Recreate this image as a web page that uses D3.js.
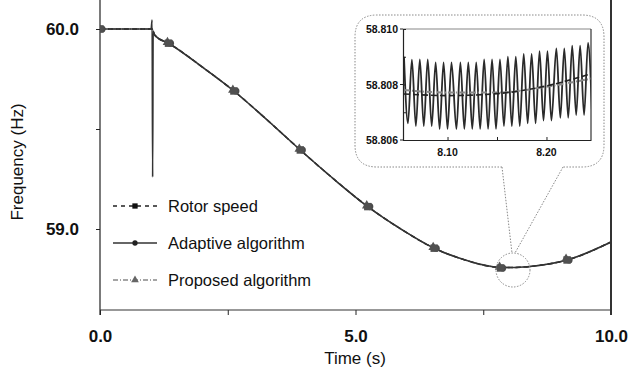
<!DOCTYPE html>
<html>
<head>
<meta charset="utf-8">
<script src="https://cdn.jsdelivr.net/npm/d3@7"></script>
<style>
  body { margin: 0; background: #fff; }
  svg { display: block; font-family: "Liberation Sans", Arial, sans-serif; }
</style>
</head>
<body>
<div class="container"></div>
<script>
// ---- main plot data ----
const mainTime = [0, 1.0, 1.02, 1.03, 1.04, 1.06, 1.1, 1.34, 2.0, 2.62, 3.25, 3.92, 4.55, 5.24, 5.9, 6.54, 7.06, 7.84, 8.13, 8.5, 9.14, 10]
const rotorFreq = [60.0, 60.0, 60.0, 59.995, 59.99, 59.975, 59.962, 59.929, 59.81, 59.69, 59.55, 59.395, 59.255, 59.112, 58.998, 58.904, 58.852, 58.808, 58.8077, 58.815, 58.845, 58.935]
const adaptiveFreq = [60.0, 60.0, 60.045, 59.26, 59.99, 59.975, 59.962, 59.929, 59.81, 59.69, 59.55, 59.395, 59.255, 59.112, 58.998, 58.904, 58.852, 58.808, 58.8076, 58.815, 58.845, 58.935]
const proposedFreq = [60.0, 60.0, 60.0, 59.995, 59.99, 59.975, 59.962, 59.929, 59.81, 59.69, 59.55, 59.395, 59.255, 59.112, 58.998, 58.904, 58.852, 58.808, 58.8077, 58.815, 58.845, 58.935]

const markerTime = [0.0, 1.34, 2.62, 3.92, 5.24, 6.54, 7.84, 9.14]
const markerFreq = [60.0, 59.929, 59.69, 59.395, 59.112, 58.904, 58.805, 58.845]

const xTicks = [0, 2.5, 5, 7.5, 10]
const xTickLabels = ["0.0", "", "5.0", "", "10.0"]
const yTicks = [59.0, 59.5, 60.0]
const yTickLabels = ["59.0", "", "60.0"]

// ---- zoomed inset data ----
const insetTime = [8.056, 8.060, 8.064, 8.068, 8.072, 8.076, 8.080, 8.084, 8.088, 8.092, 8.096, 8.100,
  8.104, 8.109, 8.113, 8.117, 8.121, 8.125, 8.129, 8.133, 8.137, 8.141, 8.145, 8.149,
  8.153, 8.157, 8.161, 8.165, 8.169, 8.173, 8.177, 8.181, 8.185, 8.189, 8.193, 8.197,
  8.201, 8.205, 8.210, 8.214, 8.218, 8.222, 8.226, 8.230, 8.234, 8.238, 8.242, 8.246]
const insetAdaptive = [58.8090, 58.8066, 58.8089, 58.8065, 58.8089, 58.8065, 58.8089, 58.8065,
  58.8088, 58.8064, 58.8088, 58.8064, 58.8088, 58.8064, 58.8088, 58.8064, 58.8088, 58.8064,
  58.8088, 58.8064, 58.8089, 58.8064, 58.8089, 58.8064, 58.8089, 58.8065, 58.8090, 58.8065,
  58.8090, 58.8065, 58.8091, 58.8066, 58.8091, 58.8066, 58.8092, 58.8067, 58.8092, 58.8067,
  58.8093, 58.8068, 58.8093, 58.8068, 58.8094, 58.8069, 58.8094, 58.8069, 58.8095, 58.8070]
const insetSmoothTime = [8.056, 8.10, 8.15, 8.20, 8.246]
const insetRotor = [58.80766, 58.80760, 58.80767, 58.80795, 58.80840]
const insetProposed = [58.80780, 58.80771, 58.80771, 58.80792, 58.80822]

const insetYTicks = [58.806, 58.807, 58.808, 58.809, 58.810]
const insetYLabels = ["58.806", "", "58.808", "", "58.810"]
const insetXTicks = [8.10, 8.15, 8.20]
const insetXLabels = ["8.10", "", "8.20"]

const legendNames = ["Rotor speed", "Adaptive algorithm", "Proposed algorithm"]

const W = 629, H = 376

const svg = d3.select("div.container").append("svg")
  .attr("width", W).attr("height", H)

// scales
const x = d3.scaleLinear().domain([0, 10]).range([100, 611])
const y = d3.scaleLinear().domain([58.595, 60.145]).range([310, 0])

// clip for main series
svg.append("clipPath").attr("id", "mainClip")
  .append("rect").attr("x", 100).attr("y", 0).attr("width", 511).attr("height", 310)

// axes
const yAxis = d3.axisLeft(y).tickValues(yTicks).tickSize(4).tickSizeOuter(0)
  .tickFormat((d, i) => yTickLabels[i])
const gy = svg.append("g").attr("transform", "translate(100,0)").call(yAxis)
gy.select(".domain").remove()
gy.selectAll("line").attr("stroke", "#222")
gy.selectAll("text").attr("font-size", 17).attr("font-weight", "bold").attr("fill", "#111").attr("dx", -14)

const xAxis = d3.axisBottom(x).tickValues(xTicks).tickSize(5).tickSizeOuter(0)
  .tickFormat((d, i) => xTickLabels[i])
const gx = svg.append("g").attr("transform", "translate(0,310)").call(xAxis)
gx.select(".domain").remove()
gx.selectAll("line").attr("stroke", "#222")
gx.selectAll("text").attr("font-size", 17).attr("font-weight", "bold").attr("fill", "#111").attr("dy", "1.4em")

// frame: left, bottom, right
svg.append("line").attr("x1", 100).attr("x2", 100).attr("y1", 0).attr("y2", 315).attr("stroke", "#222").attr("stroke-width", 1.2)
svg.append("line").attr("x1", 100).attr("x2", 611).attr("y1", 310).attr("y2", 310).attr("stroke", "#333").attr("stroke-width", 1.2)
svg.append("line").attr("x1", 611).attr("x2", 611).attr("y1", 0).attr("y2", 315).attr("stroke", "#333").attr("stroke-width", 2)

// axis titles
svg.append("text").attr("x", 355).attr("y", 364).attr("text-anchor", "middle")
  .attr("font-size", 17).attr("fill", "#111").text("Time (s)")
svg.append("text").attr("transform", "translate(23,162) rotate(-90)").attr("text-anchor", "middle")
  .attr("font-size", 17).attr("fill", "#111").text("Frequency (Hz)")

// main series
const line = d3.line().x(d => x(d[0])).y(d => y(d[1])).curve(d3.curveMonotoneX)
const main = svg.append("g").attr("clip-path", "url(#mainClip)")
main.append("path").datum(d3.zip(mainTime, proposedFreq)).attr("d", line)
  .attr("fill", "none").attr("stroke", "#777").attr("stroke-width", 1.5).attr("stroke-dasharray", "6,2,1,2")
main.append("path").datum(d3.zip(mainTime, rotorFreq)).attr("d", line)
  .attr("fill", "none").attr("stroke", "#222").attr("stroke-width", 1.5).attr("stroke-dasharray", "5,3")
main.append("path").datum(d3.zip(mainTime, adaptiveFreq)).attr("d", line)
  .attr("fill", "none").attr("stroke", "#333").attr("stroke-width", 1.6)

// markers (three symbols overlapping)
const markers = d3.zip(markerTime, markerFreq)
const symSquare = d3.symbol().type(d3.symbolSquare).size(55)
const symCircle = d3.symbol().type(d3.symbolCircle).size(40)
const symTri = d3.symbol().type(d3.symbolTriangle).size(40)
main.selectAll(".m-tr").data(markers).enter().append("path").attr("class", "m-tr")
  .attr("d", symTri).attr("transform", d => `translate(${x(d[0]) - 1},${y(d[1]) - 1})`).attr("fill", "#555")
main.selectAll(".m-ci").data(markers).enter().append("path").attr("class", "m-ci")
  .attr("d", symCircle).attr("transform", d => `translate(${x(d[0]) + 2},${y(d[1])})`).attr("fill", "#4a4a4a")
main.selectAll(".m-sq").data(markers).enter().append("path").attr("class", "m-sq")
  .attr("d", symSquare).attr("transform", d => `translate(${x(d[0])},${y(d[1])})`).attr("fill", "#505050")

// legend
const legendY = [206, 243, 280]
const leg = svg.append("g")
legendNames.forEach((name, i) => {
  const gy0 = legendY[i]
  const l = leg.append("line").attr("x1", 113).attr("x2", 157).attr("y1", gy0).attr("y2", gy0)
  if (i === 0) l.attr("stroke", "#222").attr("stroke-width", 1.3).attr("stroke-dasharray", "4,4")
  if (i === 1) l.attr("stroke", "#333").attr("stroke-width", 1.3)
  if (i === 2) l.attr("stroke", "#888").attr("stroke-width", 1.3).attr("stroke-dasharray", "5,2,1,2")
  const sym = [d3.symbol().type(d3.symbolSquare).size(28), d3.symbol().type(d3.symbolCircle).size(22), d3.symbol().type(d3.symbolTriangle).size(26)][i]
  leg.append("path").attr("d", sym).attr("transform", `translate(135,${gy0})`)
    .attr("fill", ["#111", "#222", "#666"][i])
  leg.append("text").attr("x", 168).attr("y", gy0 + 6).attr("font-size", 16.5).attr("fill", "#111").text(name)
})

// zoom circle + callout
const callout = svg.append("g").attr("fill", "none").attr("stroke", "#888").attr("stroke-width", 1).attr("stroke-dasharray", "1.5,1.5")
callout.append("circle").attr("cx", 513).attr("cy", 270).attr("r", 17)
const r = 22
callout.append("path").attr("d",
  `M502,167 L${355 + r},167 Q355,167 355,${167 - r} L355,${15 + r} Q355,15 ${355 + r},15` +
  ` L${604 - r},15 Q604,15 604,${15 + r} L604,${167 - r} Q604,167 ${604 - r},167 L563,167`)
callout.append("line").attr("x1", 502).attr("y1", 167).attr("x2", 512).attr("y2", 253)
callout.append("line").attr("x1", 563).attr("y1", 167).attr("x2", 515).attr("y2", 253)

// inset plot
const ix = d3.scaleLinear().domain([8.055, 8.245]).range([403, 591])
const iy = d3.scaleLinear().domain([58.806, 58.810]).range([140, 29])

svg.append("clipPath").attr("id", "insetClip")
  .append("rect").attr("x", 403).attr("y", 29).attr("width", 188).attr("height", 111)

const inset = svg.append("g")
inset.append("rect").attr("x", 403).attr("y", 29).attr("width", 188).attr("height", 111)
  .attr("fill", "#fff").attr("stroke", "none")

const iline = d3.line().x(d => ix(d[0])).y(d => iy(d[1])).curve(d3.curveMonotoneX)
const ig = inset.append("g").attr("clip-path", "url(#insetClip)")
ig.append("path").datum(d3.zip(insetTime, insetAdaptive)).attr("d", iline)
  .attr("fill", "none").attr("stroke", "#2a2a2a").attr("stroke-width", 1.8)
ig.append("path").datum(d3.zip(insetSmoothTime, insetProposed)).attr("d", iline)
  .attr("fill", "none").attr("stroke", "#888").attr("stroke-width", 2).attr("stroke-dasharray", "6,2,1,2")
ig.append("path").datum(d3.zip(insetSmoothTime, insetRotor)).attr("d", iline)
  .attr("fill", "none").attr("stroke", "#222").attr("stroke-width", 1.6).attr("stroke-dasharray", "6,3")

// inset frame
inset.append("line").attr("x1", 403).attr("x2", 591).attr("y1", 29).attr("y2", 29).attr("stroke", "#888").attr("stroke-width", 1.2)
inset.append("line").attr("x1", 591).attr("x2", 591).attr("y1", 29).attr("y2", 140).attr("stroke", "#333").attr("stroke-width", 1.2)

const iyAxis = d3.axisRight(iy).tickValues(insetYTicks).tickSize(3).tickSizeOuter(0).tickFormat("")
const giy = inset.append("g").attr("transform", "translate(403,0)").call(iyAxis)
giy.select(".domain").attr("stroke", "#222").attr("stroke-width", 1.2)
giy.selectAll("line").attr("stroke", "#222")
inset.selectAll(".iylab").data(insetYTicks).enter().append("text").attr("class", "iylab")
  .attr("x", 398).attr("y", d => iy(d) + 4).attr("text-anchor", "end")
  .attr("font-size", 10.5).attr("font-weight", "bold").attr("fill", "#111")
  .text((d, i) => insetYLabels[i])
// small outward tick at label positions
inset.selectAll(".iyo").data(insetYTicks.filter((d, i) => insetYLabels[i])).enter().append("line")
  .attr("x1", 400).attr("x2", 403).attr("y1", d => iy(d)).attr("y2", d => iy(d)).attr("stroke", "#222")

const ixAxis = d3.axisTop(ix).tickValues(insetXTicks).tickSize(3).tickSizeOuter(0).tickFormat("")
const gix = inset.append("g").attr("transform", "translate(0,140)").call(ixAxis)
gix.select(".domain").attr("stroke", "#222").attr("stroke-width", 1.2)
gix.selectAll("line").attr("stroke", "#222")
inset.selectAll(".ixlab").data(insetXTicks).enter().append("text").attr("class", "ixlab")
  .attr("x", d => ix(d)).attr("y", 156).attr("text-anchor", "middle")
  .attr("font-size", 10.5).attr("font-weight", "bold").attr("fill", "#111")
  .text((d, i) => insetXLabels[i])
</script>
</body>
</html>
